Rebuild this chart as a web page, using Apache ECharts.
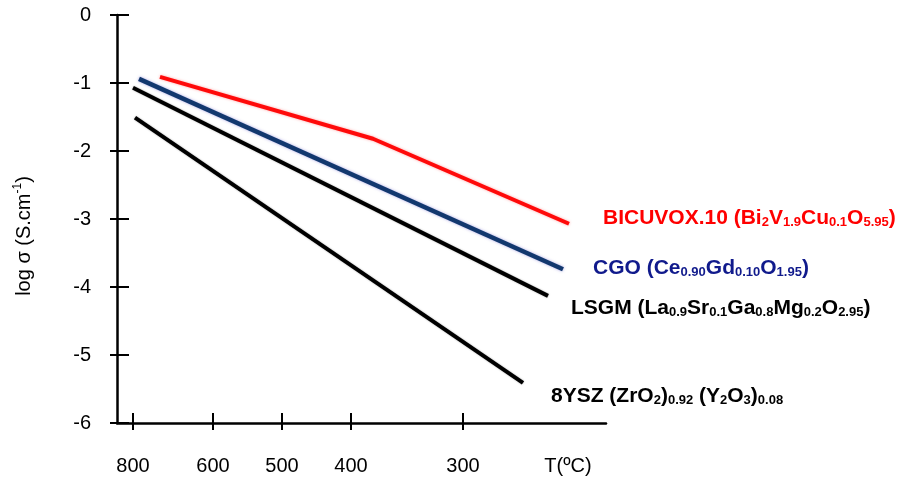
<!DOCTYPE html>
<html>
<head>
<meta charset="utf-8">
<script src="https://cdn.jsdelivr.net/npm/echarts@6/dist/echarts.min.js"></script>
<style>
  html, body { margin: 0; padding: 0; background: #fff; }
  #chart { width: 901px; height: 477px; }
</style>
</head>
<body>
<div id="chart"></div>
<script>
// x axis is drawn in plain position units (the original tick spacing is hand-made)
const xMax = 489
const tickLabels = ['800', '600', '500', '400', '300']
const tickPos = [16, 96, 165, 234, 346]
const unitLabel = 'T(ºC)'
const unitPos = 451

// log sigma values, [x, y]
const bicuvox = [[43, -0.91], [256, -1.82], [452, -3.07]]
const cgo = [[22, -0.94], [446, -3.74]]
const lsgm = [[16, -1.07], [431, -4.13]]
const ysz = [[18, -1.51], [406, -5.41]]

const FONT = 'Liberation Sans, Arial, sans-serif'

// rich styles for formula labels
function richFor(color) {
  return {
    m: { fontFamily: FONT, fontWeight: 'bold', fontSize: 21, color: color, fill: color, lineHeight: 24, verticalAlign: 'bottom' },
    s: { fontFamily: FONT, fontWeight: 'bold', fontSize: 13, color: color, fill: color, lineHeight: 13, verticalAlign: 'bottom' }
  }
}

function labelText(x, y, text, color) {
  return {
    type: 'text',
    x: x,
    y: y,
    style: {
      text: text,
      rich: richFor(color),
      fill: color,
      align: 'left',
      verticalAlign: 'middle'
    }
  }
}

const chart = echarts.init(document.getElementById('chart'))

const option = {
  animation: false,
  backgroundColor: '#fff',
  grid: { left: 117, right: 295, top: 15, bottom: 54 },
  xAxis: [
    {
      type: 'value',
      min: 0,
      max: xMax,
      splitLine: { show: false },
      axisLine: { onZero: false, lineStyle: { color: '#000', width: 2.5 } },
      axisTick: { customValues: tickPos, length: 7, lineStyle: { color: '#000', width: 2 } },
      axisLabel: {
        customValues: tickPos.concat([unitPos]),
        margin: 33,
        color: '#000',
        fontFamily: FONT,
        fontSize: 20,
        formatter: function (v) {
          if (v === unitPos) return unitLabel
          const i = tickPos.indexOf(v)
          return i >= 0 ? tickLabels[i] : ''
        }
      }
    },
    {
      type: 'value',
      min: 0,
      max: xMax,
      position: 'bottom',
      splitLine: { show: false },
      axisLine: { show: false, onZero: false },
      axisTick: { customValues: tickPos, inside: true, length: 10, lineStyle: { color: '#000', width: 2 } },
      axisLabel: { show: false }
    }
  ],
  yAxis: [
    {
      type: 'value',
      min: -6,
      max: 0,
      interval: 1,
      splitLine: { show: false },
      axisLine: { show: true, onZero: false, lineStyle: { color: '#000', width: 2.5 } },
      axisTick: { length: 7, lineStyle: { color: '#000', width: 2 } },
      axisLabel: { margin: 26, color: '#000', fontFamily: FONT, fontSize: 20 }
    },
    {
      type: 'value',
      min: -6,
      max: 0,
      interval: 1,
      position: 'left',
      splitLine: { show: false },
      axisLine: { show: false, onZero: false },
      axisTick: { inside: true, length: 12, lineStyle: { color: '#000', width: 2 } },
      axisLabel: { show: false }
    }
  ],
  series: [
    {
      name: 'BICUVOX.10',
      type: 'line',
      data: bicuvox,
      symbol: 'none',
      lineStyle: { color: '#ff0a0a', width: 4, shadowColor: 'rgba(255,0,0,0.35)', shadowBlur: 3 }
    },
    {
      name: 'CGO',
      type: 'line',
      data: cgo,
      symbol: 'none',
      lineStyle: { color: '#12386e', width: 4.5, shadowColor: 'rgba(90,80,200,0.5)', shadowBlur: 3 }
    },
    {
      name: 'LSGM',
      type: 'line',
      data: lsgm,
      symbol: 'none',
      lineStyle: { color: '#000', width: 4, shadowColor: 'rgba(0,0,0,0.3)', shadowBlur: 2 }
    },
    {
      name: '8YSZ',
      type: 'line',
      data: ysz,
      symbol: 'none',
      lineStyle: { color: '#000', width: 4, shadowColor: 'rgba(0,0,0,0.3)', shadowBlur: 2 }
    }
  ],
  graphic: [
    {
      type: 'text',
      x: 23,
      y: 236,
      rotation: Math.PI / 2,
      style: {
        text: '{n|log σ (S.cm}{p|-1}{n|)}',
        rich: {
          n: { fontFamily: FONT, fontSize: 20, fill: '#000', color: '#000', lineHeight: 22, verticalAlign: 'bottom' },
          p: { fontFamily: FONT, fontSize: 12, fill: '#000', color: '#000', lineHeight: 22, verticalAlign: 'top' }
        },
        align: 'center',
        verticalAlign: 'middle'
      }
    },
    labelText(603, 217, '{m|BICUVOX.10 (Bi}{s|2}{m|V}{s|1.9}{m|Cu}{s|0.1}{m|O}{s|5.95}{m|)}', '#ff0000'),
    labelText(593, 267, '{m|CGO (Ce}{s|0.90}{m|Gd}{s|0.10}{m|O}{s|1.95}{m|)}', '#101a8c'),
    labelText(571, 307, '{m|LSGM (La}{s|0.9}{m|Sr}{s|0.1}{m|Ga}{s|0.8}{m|Mg}{s|0.2}{m|O}{s|2.95}{m|)}', '#000'),
    labelText(551, 395, '{m|8YSZ (ZrO}{s|2}{m|)}{s|0.92}{m| (Y}{s|2}{m|O}{s|3}{m|)}{s|0.08}', '#000')
  ]
}

chart.setOption(option)
</script>
</body>
</html>
